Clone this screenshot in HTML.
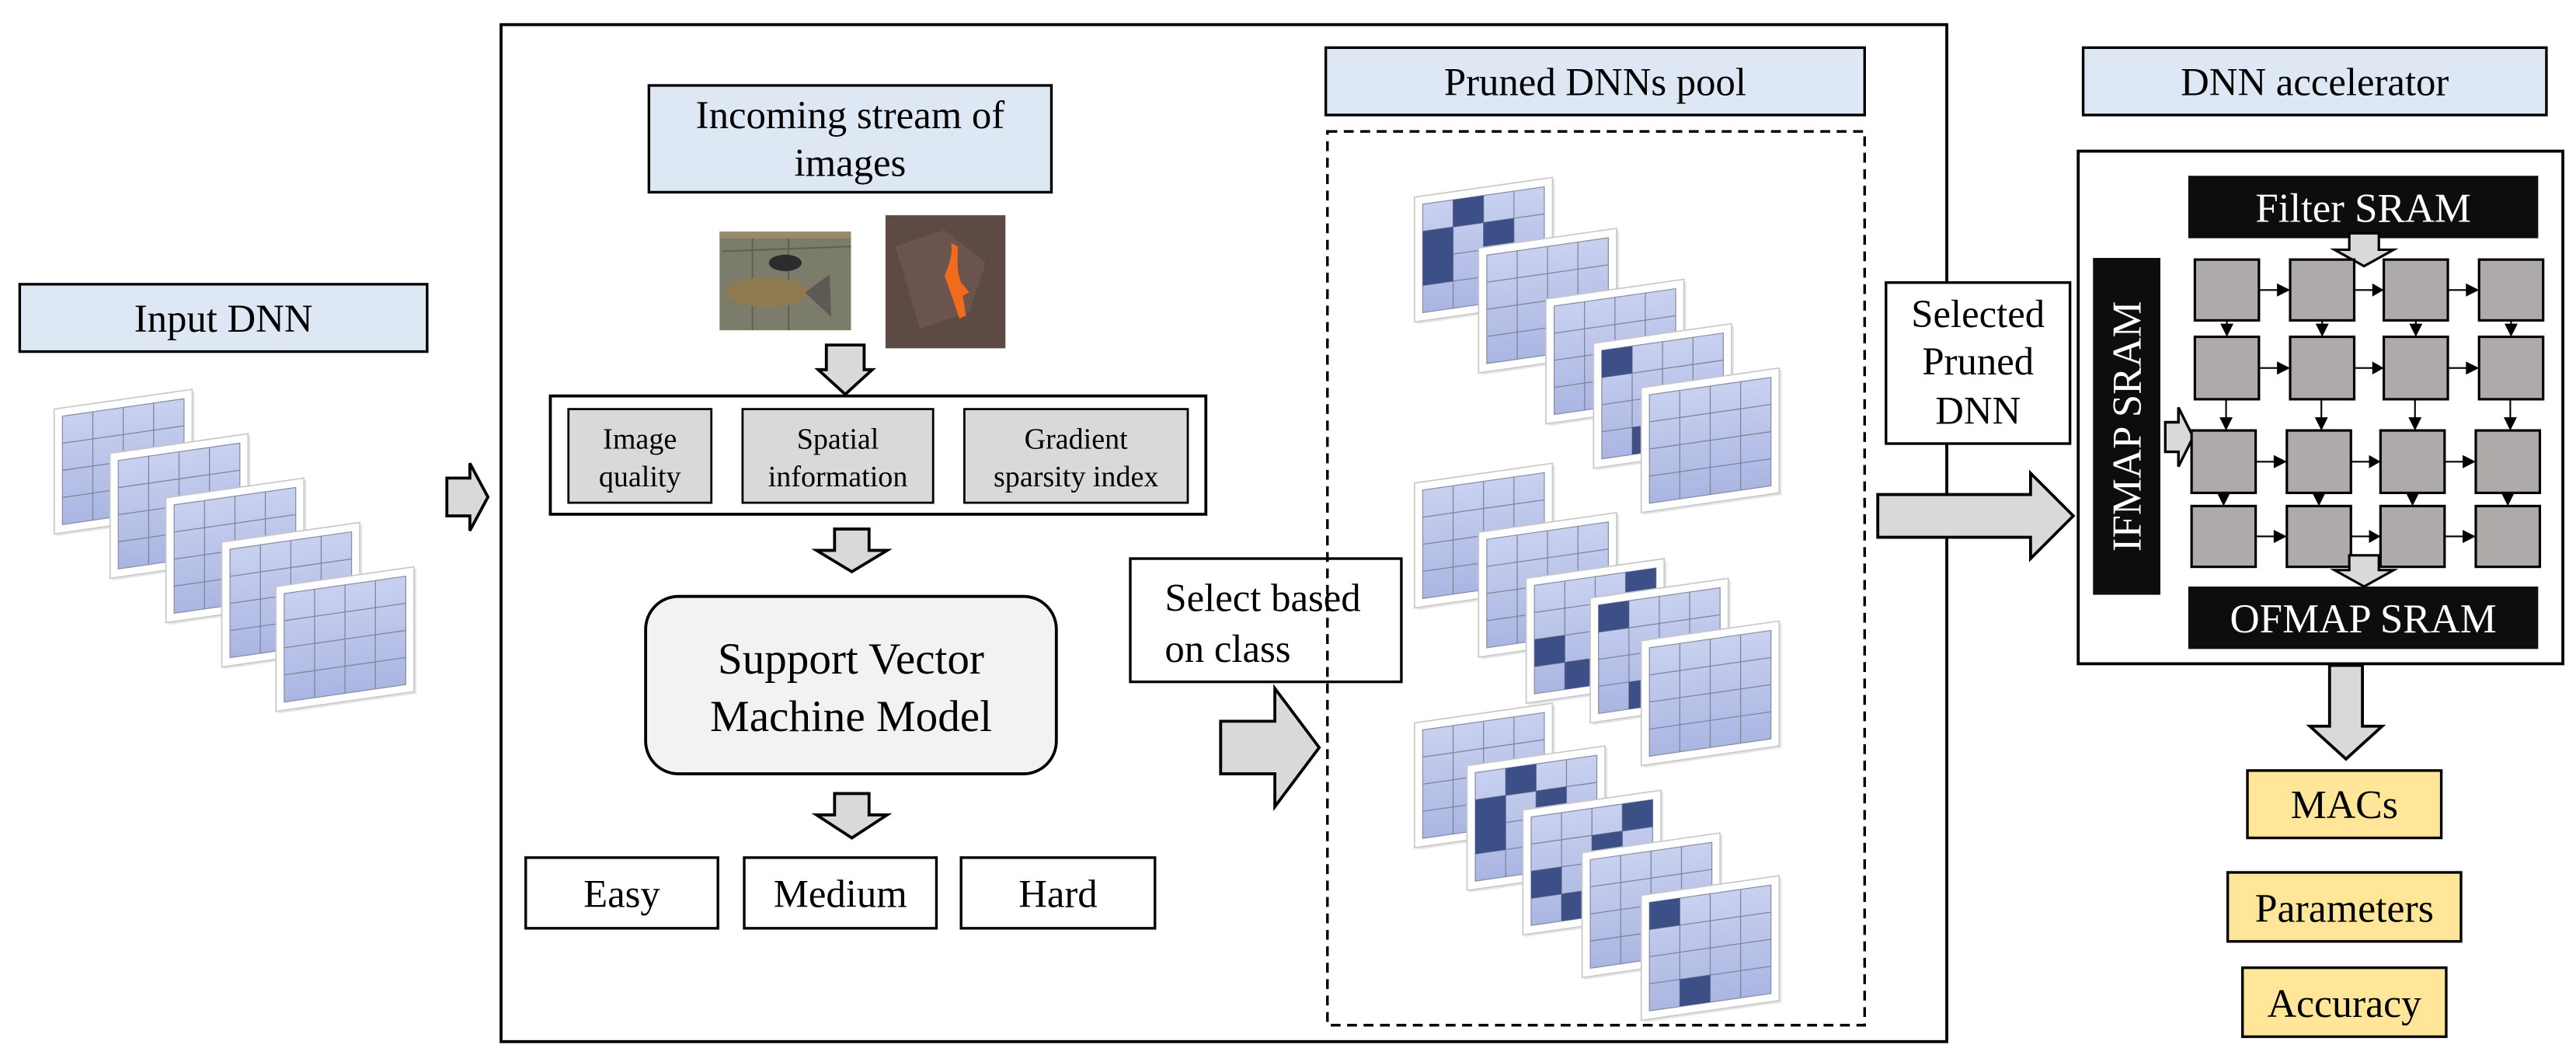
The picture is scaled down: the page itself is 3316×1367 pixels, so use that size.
<!DOCTYPE html>
<html><head><meta charset="utf-8"><style>
html,body{margin:0;padding:0;background:#fff;}
svg{display:block;}
text{font-family:"Liberation Serif",serif;fill:#000;}
</style></head><body>
<svg width="3316" height="1367" viewBox="0 0 1568 646.4" preserveAspectRatio="none" xmlns="http://www.w3.org/2000/svg">
<defs>
<linearGradient id="cg" x1="0" y1="0" x2="0" y2="1"><stop offset="0" stop-color="#c9d1f0"/><stop offset="1" stop-color="#aab6e2"/></linearGradient>
<g id="layer">
<rect x="1.5" y="1.5" width="84" height="76" fill="#e6e6e6"/>
<rect x="0" y="0" width="84" height="76" fill="#fff" stroke="#c8c8c8" stroke-width="0.8"/>
<rect x="5" y="5" width="74" height="66" fill="url(#cg)" stroke="#8a8fa8" stroke-width="0.6"/>
<path d="M23.5 5V71M42 5V71M60.5 5V71M5 21.5H79M5 38H79M5 54.5H79" stroke="#7f8499" stroke-width="0.6" fill="none"/>
</g>
</defs>

<!-- Input DNN -->
<rect x="12" y="173" width="248" height="41" fill="#dde8f4" stroke="#000" stroke-width="1.6"/>
<text x="136" y="202" font-size="24" text-anchor="middle">Input DNN</text>
<g transform="matrix(1,-0.143,0,1,33,249)"><use href="#layer"/></g>
<g transform="matrix(1,-0.143,0,1,67,276)"><use href="#layer"/></g>
<g transform="matrix(1,-0.143,0,1,101,303)"><use href="#layer"/></g>
<g transform="matrix(1,-0.143,0,1,135,330)"><use href="#layer"/></g>
<g transform="matrix(1,-0.143,0,1,168,357)"><use href="#layer"/></g>
<path d="M272 291H286V282L297 302.5L286 323V314H272Z" fill="#d9d9d9" stroke="#000" stroke-width="1.8"/>

<!-- outer box -->
<rect x="305" y="15" width="880" height="619" fill="none" stroke="#000" stroke-width="1.8"/>

<rect x="395" y="52" width="245" height="65" fill="#dde8f4" stroke="#000" stroke-width="1.6"/>
<text x="517.5" y="78" font-size="24" text-anchor="middle">Incoming stream of</text>
<text x="517.5" y="107" font-size="24" text-anchor="middle">images</text>

<!-- fish image -->
<rect x="438" y="141" width="80" height="60" fill="#7b7d6a"/>
<rect x="438" y="141" width="80" height="4" fill="#9a8a6c"/>
<path d="M440 153L518 150M458 145V201M480 145V201" stroke="#5f6253" stroke-width="1" fill="none"/>
<ellipse cx="478" cy="160" rx="10" ry="5" fill="#2c2c2c"/>
<ellipse cx="467" cy="178" rx="25" ry="9" fill="#8f7a52"/>
<path d="M490 178L505 167L506 193Z" fill="#5d5a55"/>
<!-- salamander image -->
<rect x="539" y="131" width="73" height="81" fill="#5e4a45"/>
<path d="M545 150L575 140L600 160L590 190L560 200Z" fill="#6e5650" opacity="0.8"/>
<path d="M575 168C578 160 580 155 579 148L583 150C583 158 582 165 585 172L590 178L586 180L588 192L584 194L580 182Z" fill="#f26a1b"/>

<path d="M503 210H526V225H531L514.5 240L498 225H503Z" fill="#d9d9d9" stroke="#000" stroke-width="1.8"/>

<!-- features -->
<rect x="335" y="241" width="399" height="72" fill="#fff" stroke="#000" stroke-width="1.8"/>
<rect x="346" y="249" width="87" height="57" fill="#d9d9d9" stroke="#000" stroke-width="1.3"/>
<rect x="452" y="249" width="116" height="57" fill="#d9d9d9" stroke="#000" stroke-width="1.3"/>
<rect x="587" y="249" width="136" height="57" fill="#d9d9d9" stroke="#000" stroke-width="1.3"/>
<g font-size="18" text-anchor="middle">
<text x="389.5" y="273">Image</text><text x="389.5" y="296">quality</text>
<text x="510" y="273">Spatial</text><text x="510" y="296">information</text>
<text x="655" y="273">Gradient</text><text x="655" y="296">sparsity index</text>
</g>

<path d="M508 322H529V335H540L518.5 348L497 335H508Z" fill="#d9d9d9" stroke="#000" stroke-width="1.8"/>

<rect x="393" y="363" width="250" height="108" rx="20" fill="#f2f2f2" stroke="#000" stroke-width="1.8"/>
<text x="518" y="410" font-size="27" text-anchor="middle">Support Vector</text>
<text x="518" y="445" font-size="27" text-anchor="middle">Machine Model</text>

<path d="M508 483H529V496H540L518.5 510L497 496H508Z" fill="#d9d9d9" stroke="#000" stroke-width="1.8"/>

<g fill="#fff" stroke="#000" stroke-width="1.6">
<rect x="320" y="522" width="117" height="43"/>
<rect x="453" y="522" width="117" height="43"/>
<rect x="585" y="522" width="118" height="43"/>
</g>
<g font-size="24" text-anchor="middle">
<text x="378.5" y="552">Easy</text><text x="511.5" y="552">Medium</text><text x="644" y="552">Hard</text>
</g>

<rect x="688" y="340" width="165" height="75" fill="#fff" stroke="#000" stroke-width="1.6"/>
<text x="709" y="372" font-size="24">Select based</text>
<text x="709" y="403" font-size="24">on class</text>
<path d="M743 439H776V419L803 455L776 491V471H743Z" fill="#d9d9d9" stroke="#000" stroke-width="1.8"/>

<!-- Pruned pool -->
<rect x="807" y="29" width="328" height="41" fill="#dde8f4" stroke="#000" stroke-width="1.6"/>
<text x="971" y="58" font-size="24" text-anchor="middle">Pruned DNNs pool</text>
<rect x="808" y="80" width="327" height="544" fill="none" stroke="#000" stroke-width="1.6" stroke-dasharray="6,4"/>

<!-- group 1 -->
<g transform="matrix(1,-0.143,0,1,861,120)"><use href="#layer"/><g fill="#3c4f87"><rect x="23.5" y="5" width="18.5" height="16.5"/><rect x="5" y="21.5" width="18.5" height="33"/><rect x="42" y="21.5" width="18.5" height="16.5"/></g></g>
<g transform="matrix(1,-0.143,0,1,900,151)"><use href="#layer"/></g>
<g transform="matrix(1,-0.143,0,1,941,182)"><use href="#layer"/></g>
<g transform="matrix(1,-0.143,0,1,970,209)"><use href="#layer"/><g fill="#3c4f87"><rect x="5" y="5" width="18.5" height="16.5"/><rect x="23.5" y="54.5" width="18.5" height="16.5"/></g></g>
<g transform="matrix(1,-0.143,0,1,999,236)"><use href="#layer"/></g>

<!-- group 2 -->
<g transform="matrix(1,-0.143,0,1,861,294)"><use href="#layer"/></g>
<g transform="matrix(1,-0.143,0,1,900,324)"><use href="#layer"/></g>
<g transform="matrix(1,-0.143,0,1,929,352)"><use href="#layer"/><g fill="#3c4f87"><rect x="60.5" y="5" width="18.5" height="16.5"/><rect x="42" y="21.5" width="18.5" height="16.5"/><rect x="5" y="38" width="18.5" height="16.5"/><rect x="23.5" y="54.5" width="18.5" height="16.5"/></g></g>
<g transform="matrix(1,-0.143,0,1,968,364)"><use href="#layer"/><g fill="#3c4f87"><rect x="5" y="5" width="18.5" height="16.5"/><rect x="23.5" y="54.5" width="18.5" height="16.5"/></g></g>
<g transform="matrix(1,-0.143,0,1,999,390)"><use href="#layer"/></g>

<!-- group 3 -->
<g transform="matrix(1,-0.143,0,1,861,440)"><use href="#layer"/></g>
<g transform="matrix(1,-0.143,0,1,893,466)"><use href="#layer"/><g fill="#3c4f87"><rect x="23.5" y="5" width="18.5" height="16.5"/><rect x="5" y="21.5" width="18.5" height="33"/><rect x="42" y="21.5" width="18.5" height="16.5"/></g></g>
<g transform="matrix(1,-0.143,0,1,927,493)"><use href="#layer"/><g fill="#3c4f87"><rect x="60.5" y="5" width="18.5" height="16.5"/><rect x="42" y="21.5" width="18.5" height="16.5"/><rect x="5" y="38" width="18.5" height="16.5"/><rect x="23.5" y="54.5" width="18.5" height="16.5"/></g></g>
<g transform="matrix(1,-0.143,0,1,963,519)"><use href="#layer"/></g>
<g transform="matrix(1,-0.143,0,1,999,545)"><use href="#layer"/><g fill="#3c4f87"><rect x="5" y="5" width="18.5" height="16.5"/><rect x="23.5" y="54.5" width="18.5" height="16.5"/></g></g>

<!-- Selected Pruned DNN -->
<rect x="1148" y="172" width="112" height="98" fill="#fff" stroke="#000" stroke-width="1.6"/>
<g font-size="24" text-anchor="middle">
<text x="1204" y="199">Selected</text><text x="1204" y="228">Pruned</text><text x="1204" y="258">DNN</text>
</g>
<path d="M1143 301H1236V288L1262 314L1236 340V327H1143Z" fill="#d9d9d9" stroke="#000" stroke-width="1.8"/>

<!-- Accelerator -->
<rect x="1268" y="29" width="282" height="41" fill="#dde8f4" stroke="#000" stroke-width="1.6"/>
<text x="1409" y="58" font-size="24" text-anchor="middle">DNN accelerator</text>
<rect x="1265" y="92" width="295" height="312" fill="#fff" stroke="#000" stroke-width="1.8"/>
<rect x="1332" y="107" width="213" height="38" fill="#0d0d0d"/>
<text x="1438.5" y="135" font-size="25" text-anchor="middle" style="fill:#fff">Filter SRAM</text>
<rect x="1332" y="357" width="213" height="38" fill="#0d0d0d"/>
<text x="1438.5" y="385" font-size="25" text-anchor="middle" style="fill:#fff">OFMAP SRAM</text>
<rect x="1274" y="157" width="41" height="205" fill="#0d0d0d"/>
<text x="0" y="0" font-size="25" text-anchor="middle" style="fill:#fff" transform="translate(1303,259.5) rotate(-90)">IFMAP SRAM</text>
<path d="M1318 257H1326V248L1335 266L1326 284V275H1318Z" fill="#d9d9d9" stroke="#000" stroke-width="1.6"/>
<path d="M1430 142H1448V152H1457L1439 162L1421 152H1430Z" fill="#d9d9d9" stroke="#000" stroke-width="1.5"/>

<g fill="#aeaaaa" stroke="#000" stroke-width="1.5">
<rect x="1336" y="158" width="39" height="37"/><rect x="1394" y="158" width="39" height="37"/><rect x="1451" y="158" width="39" height="37"/><rect x="1509" y="158" width="39" height="37"/>
<rect x="1336" y="205" width="39" height="38"/><rect x="1394" y="205" width="39" height="38"/><rect x="1451" y="205" width="39" height="38"/><rect x="1509" y="205" width="39" height="38"/>
<rect x="1334" y="262" width="39" height="38"/><rect x="1392" y="262" width="39" height="38"/><rect x="1449" y="262" width="39" height="38"/><rect x="1507" y="262" width="39" height="38"/>
<rect x="1334" y="308" width="39" height="37"/><rect x="1392" y="308" width="39" height="37"/><rect x="1449" y="308" width="39" height="37"/><rect x="1507" y="308" width="39" height="37"/>
</g>
<g stroke="#000" stroke-width="1">
<path d="M1375 176.5H1390M1433 176.5H1447M1490 176.5H1505M1375 224H1390M1433 224H1447M1490 224H1505M1373 281H1388M1431 281H1445M1488 281H1503M1373 326.5H1388M1431 326.5H1445M1488 326.5H1503"/>
<path d="M1355.5 195V201M1413.5 195V201M1470.5 195V201M1528.5 195V201M1355 243V258M1413 243V258M1470 243V258M1528 243V258M1353.5 300V304M1411.5 300V304M1468.5 300V304M1526.5 300V304"/>
</g>
<g fill="#000">
<path d="M1386 172.5L1394 176.5L1386 180.5Z M1444 172.5L1451 176.5L1444 180.5Z M1501 172.5L1509 176.5L1501 180.5Z"/>
<path d="M1386 220L1394 224L1386 228Z M1444 220L1451 224L1444 228Z M1501 220L1509 224L1501 228Z"/>
<path d="M1384 277L1392 281L1384 285Z M1442 277L1449 281L1442 285Z M1499 277L1507 281L1499 285Z"/>
<path d="M1384 322.5L1392 326.5L1384 330.5Z M1442 322.5L1449 326.5L1442 330.5Z M1499 322.5L1507 326.5L1499 330.5Z"/>
<path d="M1351.5 197L1359.5 197L1355.5 205Z M1409.5 197L1417.5 197L1413.5 205Z M1466.5 197L1474.5 197L1470.5 205Z M1524.5 197L1532.5 197L1528.5 205Z"/>
<path d="M1351 254L1359 254L1355 262Z M1409 254L1417 254L1413 262Z M1466 254L1474 254L1470 262Z M1524 254L1532 254L1528 262Z"/>
<path d="M1349.5 300L1357.5 300L1353.5 308Z M1407.5 300L1415.5 300L1411.5 308Z M1464.5 300L1472.5 300L1468.5 308Z M1522.5 300L1530.5 300L1526.5 308Z"/>
</g>
<path d="M1430 338H1448V347H1457L1439 357L1421 347H1430Z" fill="#d9d9d9" stroke="#000" stroke-width="1.5"/>

<path d="M1418 405H1438V442H1450L1428 462L1406 442H1418Z" fill="#d9d9d9" stroke="#000" stroke-width="1.8"/>

<g fill="#ffe699" stroke="#000" stroke-width="1.6">
<rect x="1368" y="469" width="118" height="41"/>
<rect x="1356" y="531" width="142" height="42"/>
<rect x="1365" y="589" width="124" height="42"/>
</g>
<g font-size="24.5" text-anchor="middle">
<text x="1427" y="498">MACs</text><text x="1427" y="561">Parameters</text><text x="1427" y="619">Accuracy</text>
</g>
</svg>
</body></html>
